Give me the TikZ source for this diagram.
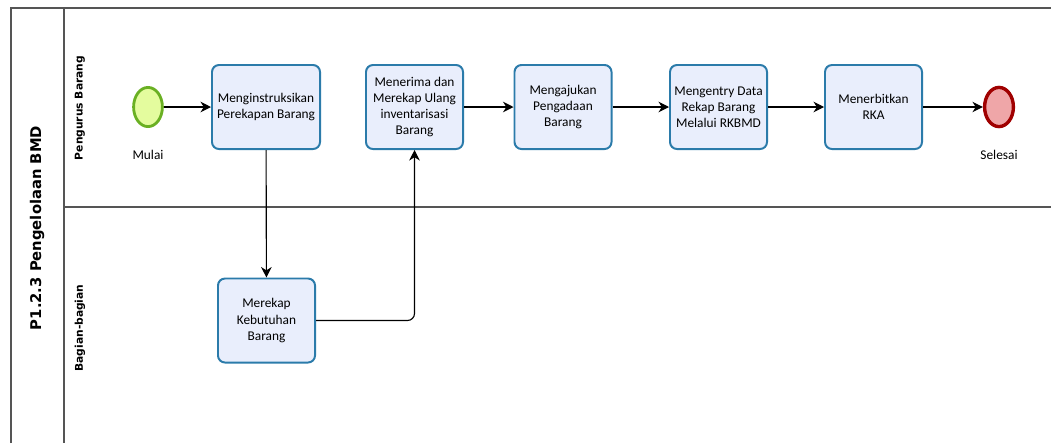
\documentclass[tikz,border=0pt]{standalone}
\usepackage{fontspec}
\setmainfont{Carlito}
\newfontfamily\headfont{DejaVu Sans}
\usepackage{xcolor}
\usetikzlibrary{arrows.meta, positioning, shapes.geometric}

\definecolor{taskfill}{HTML}{E9EEFC}
\definecolor{taskline}{HTML}{2B7BAA}
\definecolor{startfill}{HTML}{E4FC9E}
\definecolor{startline}{HTML}{6AB023}
\definecolor{endfill}{HTML}{EFA6A8}
\definecolor{endline}{HTML}{A00000}
\definecolor{poolline}{HTML}{555555}

\begin{document}
\begin{tikzpicture}[
  x=0.025cm, y=-0.025cm,
  task/.style={draw=taskline, fill=taskfill, line width=1.4pt,
               rounded corners=5pt, minimum width=2.425cm,
               minimum height=2.1cm, align=center, inner sep=2pt,
               font=\fontsize{9.5}{11.5}\selectfont},
  startev/.style={ellipse, draw=startline, fill=startfill,
                  line width=2pt, minimum width=0.72cm, minimum height=0.98cm},
  endev/.style={ellipse, draw=endline, fill=endfill,
                line width=2.4pt, minimum width=0.72cm, minimum height=0.98cm},
  evlabel/.style={font=\fontsize{9.5}{11.5}\selectfont},
  lanetitle/.style={rotate=90, font=\headfont\bfseries\fontsize{7.6}{9}\selectfont},
  pooltitle/.style={rotate=90, font=\headfont\bfseries\fontsize{10.5}{12}\selectfont},
  pool/.style={draw=poolline, line width=1.1pt},
  arr/.style={-{Stealth[length=7.5pt, width=7.5pt]}, line width=0.8pt, black},
]
\useasboundingbox (0,0) rectangle (1051,443);

% --- Pool and lanes ---
\draw[pool] (11,443) -- (11,8) -- (1051,8);
\draw[pool] (64,8) -- (64,443);
\draw[pool] (64,207) -- (1051,207);
\node[pooltitle] (pooltxt) at (37,228) {P1.2.3 Pengelolaan BMD};
\node[lanetitle] (lane1) at (80,108) {Pengurus Barang};
\node[lanetitle] (lane2) at (80,328) {Bagian-bagian};

% --- Events ---
\node[startev] (mulai) at (148,107) {};
\node[evlabel] (mulaitxt) at (148,155) {Mulai};
\node[endev] (selesai) at (999,107) {};
\node[evlabel] (selesaitxt) at (999,155) {Selesai};

% --- Tasks ---
\node[task, minimum width=2.7cm] (instruksi) at (266,107)
  {Menginstruksikan\\Perekapan Barang};
\node[task] (terima) at (414.5,107)
  {Menerima dan\\Merekap Ulang\\inventarisasi\\Barang};
\node[task] (ajukan) at (563,107)
  {Mengajukan\\Pengadaan\\Barang};
\node[task] (entry) at (718.5,107)
  {Mengentry Data\\Rekap Barang\\Melalui RKBMD};
\node[task] (rka) at (873.5,107)
  {Menerbitkan\\RKA};
\node[task] (rekap) at (266.5,320.5)
  {Merekap\\Kebutuhan\\Barang};

% --- Flow arrows ---
\draw[arr] (mulai) -- (instruksi);
\draw[arr] (instruksi) -- (rekap);
\draw[arr, rounded corners=5pt] (rekap.east) -| (terima.south);
\draw[arr] (terima) -- (ajukan);
\draw[arr] (ajukan) -- (entry);
\draw[arr] (entry) -- (rka);
\draw[arr] (rka) -- (selesai);

\end{tikzpicture}
\end{document}
